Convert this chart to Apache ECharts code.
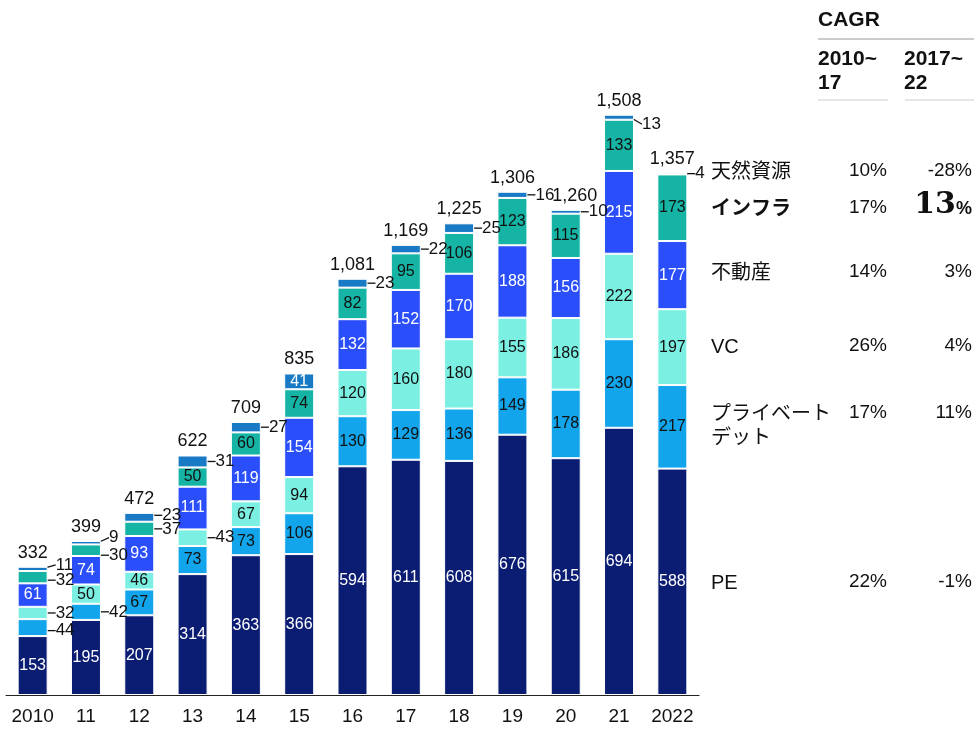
<!DOCTYPE html>
<html>
<head>
<meta charset="utf-8">
<script src="https://cdn.jsdelivr.net/npm/echarts@6/dist/echarts.min.js"></script>
<style>
  html, body { margin: 0; padding: 0; background: #fff; }
  #chart { width: 974px; height: 729px; }
</style>
</head>
<body>
<div id="chart"></div>
<script>
const years = ['2010', '11', '12', '13', '14', '15', '16', '17', '18', '19', '20', '21', '2022']

// 運用資産残高（積み上げ）
const pe = [153, 195, 207, 314, 363, 366, 594, 611, 608, 676, 615, 694, 588]
const privateDebt = [44, 42, 67, 73, 73, 106, 130, 129, 136, 149, 178, 230, 217]
const vc = [32, 50, 46, 43, 67, 94, 120, 160, 180, 155, 186, 222, 197]
const realEstate = [61, 74, 93, 111, 119, 154, 132, 152, 170, 188, 156, 215, 177]
const infra = [32, 30, 37, 50, 60, 74, 82, 95, 106, 123, 115, 133, 173]
const natural = [11, 9, 23, 31, 27, 41, 23, 22, 25, 16, 10, 13, 4]
const totals = [332, 399, 472, 622, 709, 835, 1081, 1169, 1225, 1306, 1260, 1508, 1357]

// 外側にラベルを出す項目（年のindex）
const outsidePD = [0, 1]
const outsideVC = [0, 3]
const outsideInfra = [0, 1, 2]
const outsideNR = [0, 1, 2, 3, 4, 6, 7, 8, 9, 10, 11, 12]

// CAGR表
const cagrNames = ['天然資源', 'インフラ', '不動産', 'VC', 'プライベート\nデット', 'PE']
const cagr1017 = ['10%', '17%', '14%', '26%', '17%', '22%']
const cagr1722 = ['-28%', '13%', '3%', '4%', '11%', '-1%']

const FONT = '"Liberation Sans", Arial, sans-serif'
const JP = '"Liberation Sans", "Noto Sans CJK JP", sans-serif'

const chart = echarts.init(document.getElementById('chart'))

const makeData = (values, outside, insideColor) => values.map((v, i) => {
  if (outside.indexOf(i) >= 0) {
    return {
      value: v,
      label: { position: 'right', distance: 8, color: '#111', fontSize: 17 },
      labelLine: { show: true, lineStyle: { color: '#111', width: 1.3 } }
    }
  }
  return { value: v, label: { color: insideColor } }
})

const barSeries = (name, values, color, outside, labelColor) => ({
  name: name,
  type: 'bar',
  stack: 'aum',
  barWidth: 30,
  data: makeData(values, outside, labelColor),
  itemStyle: { color: color, borderColor: '#fff', borderWidth: 1 },
  label: {
    show: true,
    position: 'inside',
    fontFamily: FONT,
    fontSize: 16,
    color: labelColor
  },
  labelLine: { show: false }
})

// 少しずらすラベル（series-dataIndex）
const nudges = {
  '5-0': { dy: -4 }, '4-0': { dy: 3 }, '1-0': { dy: 3 },
  '5-1': { dy: -5 }, '4-1': { dy: 5 },
  '5-2': { dy: -2 },
  '5-11': { dy: 7 },
  '6-10': { dx: 9 }
}

const option = {
  animation: false,
  grid: { left: 6, width: 693, top: 0, bottom: 34 },
  xAxis: {
    type: 'category',
    data: years,
    axisLine: { lineStyle: { color: '#222', width: 1.2 } },
    axisTick: { show: false },
    axisLabel: { interval: 0, color: '#111', fontFamily: FONT, fontSize: 19, margin: 12 }
  },
  yAxis: {
    type: 'value',
    min: 0,
    max: 1805,
    show: false,
    splitLine: { show: false }
  },
  labelLayout: function (params) {
    const key = params.seriesIndex + '-' + params.dataIndex
    return nudges[key] || {}
  },
  series: [
    barSeries('PE', pe, '#0b1d72', [], '#fff'),
    barSeries('プライベートデット', privateDebt, '#12a5ec', outsidePD, '#111'),
    barSeries('VC', vc, '#7bf0e2', outsideVC, '#111'),
    barSeries('不動産', realEstate, '#2a4ffa', [], '#fff'),
    barSeries('インフラ', infra, '#15b4a5', outsideInfra, '#111'),
    barSeries('天然資源', natural, '#1879c4', outsideNR, '#fff'),
    {
      name: 'total',
      type: 'bar',
      stack: 'aum',
      barWidth: 30,
      data: totals.map(() => 0),
      itemStyle: { color: 'transparent' },
      label: {
        show: true,
        position: 'top',
        distance: 5,
        fontFamily: FONT,
        fontSize: 18,
        color: '#111',
        formatter: p => totals[p.dataIndex].toLocaleString('en-US')
      }
    }
  ],
  graphic: []
}

// CAGR表を作る
const g = option.graphic
g.push({ type: 'text', left: 818, top: 10, style: { text: 'CAGR', font: 'bold 21px ' + FONT, fill: '#111' } })
g.push({ type: 'line', shape: { x1: 818, y1: 39, x2: 974, y2: 39 }, style: { stroke: '#999', lineWidth: 1 } })
g.push({ type: 'text', left: 818, top: 47, style: { text: '2010~\n17', font: 'bold 21px ' + FONT, lineHeight: 24, fill: '#111' } })
g.push({ type: 'text', left: 904, top: 47, style: { text: '2017~\n22', font: 'bold 21px ' + FONT, lineHeight: 24, fill: '#111' } })
g.push({ type: 'line', shape: { x1: 818, y1: 100, x2: 888, y2: 100 }, style: { stroke: '#ccc', lineWidth: 1 } })
g.push({ type: 'line', shape: { x1: 905, y1: 100, x2: 974, y2: 100 }, style: { stroke: '#ccc', lineWidth: 1 } })

const rowY = [172, 209, 273, 347, 414, 583]
cagrNames.forEach((name, i) => {
  const bold = name === 'インフラ'
  g.push({
    type: 'text', left: 711, top: rowY[i] - 12,
    style: { text: name, font: (bold ? 'bold ' : '') + '20px ' + JP, lineHeight: 24, fill: '#111' }
  })
  g.push({
    type: 'text', right: 974 - 887, top: rowY[i] - 11,
    style: { text: cagr1017[i], font: '19px ' + FONT, fill: '#111', align: 'right' }
  })
  if (bold) {
    g.push({
      type: 'text', right: 2, top: rowY[i] - 19,
      style: {
        text: '{n|13}{p|%}',
        align: 'right',
        rich: {
          n: { font: 'bold 30px "DejaVu Serif", "Liberation Serif", serif', fill: '#111', verticalAlign: 'bottom' },
          p: { font: 'bold 18px ' + FONT, fill: '#111', verticalAlign: 'bottom', padding: [0, 0, 2, 0] }
        }
      }
    })
  } else {
    g.push({
      type: 'text', right: 2, top: rowY[i] - 11,
      style: { text: cagr1722[i], font: '19px ' + FONT, fill: '#111', align: 'right' }
    })
  }
})

chart.setOption(option)
</script>
</body>
</html>
